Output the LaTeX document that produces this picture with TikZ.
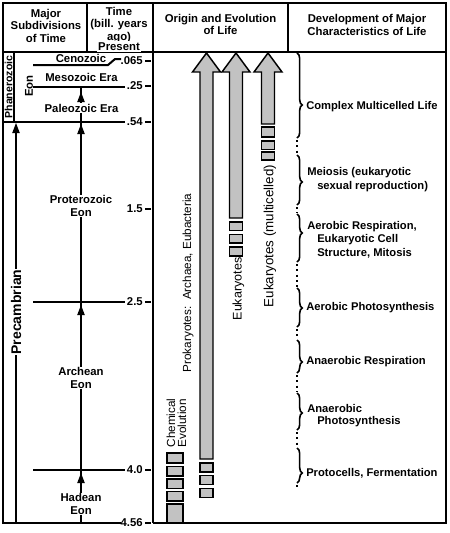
\documentclass[tikz,border=0pt]{standalone}
\usepackage{fontspec}
\setmainfont{Liberation Sans}
\usetikzlibrary{decorations.pathreplacing}
\definecolor{barfill}{gray}{0.76}
\tikzset{uphead/.pic={\fill (0,0) -- (-3.8,10) -- (3.8,10) -- cycle;}}
\begin{document}
\begin{tikzpicture}[x=0.75pt,y=-0.75pt,
  rule/.style={line width=1.5pt},
  bx/.style={font=\fontsize{8.5}{9.6}\selectfont\bfseries, inner sep=0.6pt, align=center},
  bxw/.style={bx, fill=white},
  rt/.style={font=\fontsize{8.4}{9.5}\selectfont\bfseries, anchor=west, inner sep=0pt},
  num/.style={font=\fontsize{8.5}{9.5}\selectfont\bfseries, anchor=east, inner sep=0pt},
  hdr/.style={font=\fontsize{8.5}{9.4}\selectfont\bfseries, align=center, inner sep=0pt},
  mid/.style={rotate=90, inner sep=0pt, align=left},
  bar/.style={draw, line width=1.1pt, fill=barfill},
  brc/.style={decorate, decoration={brace, amplitude=4pt, aspect=#1}, line width=1.2pt},
  dotl/.style={line width=1.5pt, dash pattern=on 1.5pt off 2.5pt}
]
\useasboundingbox (0,0) rectangle (450,533);

% ---- frame and header rules
\draw[rule] (121,523) -- (3,523) -- (3,3) -- (446,3) -- (446,523) -- (153,523);
\draw[rule] (3,52) -- (446,52);
\draw[rule] (87,3) -- (87,52);
\draw[rule] (153,3) -- (153,523);
\draw[rule] (288,3) -- (288,52);

% ---- header texts
\node[hdr] (h1) at (46,25.5) {Major\\Subdivisions\\of Time};
\node[hdr] (h2) at (119,25) {Time\\(bill. years\\ago)};
\node[hdr, fill=white, inner sep=1pt] (present) at (119,46.5) {Present};
\node[hdr] (h3) at (220.5,24.5) {Origin and Evolution\\of Life};
\node[hdr] (h4) at (367,25) {Development of Major\\Characteristics of Life};

% ---- time column rules
\draw[rule] (14,52) -- (14,122);
\draw[rule] (33,65) -- (108,65) -- (115,59) -- (121,59);
\draw[rule] (33,87) -- (125,87);
\draw[rule] (3,122) -- (125,122);
\draw[rule] (33,302) -- (125,302);
\draw[rule] (33,470) -- (125,470);
\foreach \y in {61,86,122,209,302,470,523} \draw[rule] (145,\y) -- (151,\y);

% ---- vertical arrows
\draw[rule] (16,523) -- (16,126);
\pic at (16,123) {uphead};
\draw[rule] (81,523) -- (81,87);
\pic at (81,92) {uphead};
\pic at (81,124) {uphead};
\pic at (81,305) {uphead};
\pic at (81,473) {uphead};

% ---- time labels
\node[bx, rotate=90, font=\fontsize{7.9}{9}\selectfont\bfseries] (phan) at (8.5,87) {Phanerozoic};
\node[bx, rotate=90] (eon) at (29,86) {Eon};
\node[bx, rotate=90, fill=white, font=\fontsize{10.5}{12}\selectfont\bfseries] (prec) at (16,312) {Precambrian};
\node[bx] (ceno) at (81,58) {Cenozoic};
\node[bx] (meso) at (81.5,77) {Mesozoic Era};
\node[bxw] (paleo) at (81.5,108) {Paleozoic Era};
\node[bxw] (prot) at (81,206) {Proterozoic\\Eon};
\node[bxw] (arch) at (81,378) {Archean\\Eon};
\node[bxw] (had) at (81,504) {Hadean\\Eon};

\node[num] (n1) at (143,61) {.065};
\node[num] (n2) at (143,86) {.25};
\node[num] (n3) at (143,122) {.54};
\node[num] (n4) at (143,209) {1.5};
\node[num] (n5) at (143,302) {2.5};
\node[num] (n6) at (143,470) {4.0};
\node[num] (n7) at (143,523) {4.56};

% ---- evolution arrows
\draw[bar] (200,459) -- (200,72) -- (192.5,72) -- (206.5,53) -- (220.5,72) -- (213,72) -- (213,459) -- cycle;
\draw[bar] (229.5,218) -- (229.5,72) -- (222,72) -- (236,53) -- (250,72) -- (242.5,72) -- (242.5,218) -- cycle;
\draw[bar] (261.5,124) -- (261.5,72) -- (254,72) -- (268,53) -- (282,72) -- (274.5,72) -- (274.5,124) -- cycle;

\foreach \a/\b in {463/472,475.5/484.5,488.5/497.5} \draw[bar] (200,\a) rectangle (213,\b);
\foreach \a/\b in {222/230.5,234.5/243,247/256} \draw[bar] (229.5,\a) rectangle (242.5,\b);
\foreach \a/\b in {127/137,141/149.5,152/160} \draw[bar] (261.5,\a) rectangle (274.5,\b);
\foreach \a/\b in {453/463,466.5/476,479/488.5,491.5/501,504/523} \draw[bar] (167,\a) rectangle (183,\b);

\node[mid, font=\fontsize{8.8}{8.3}\selectfont] (chem) at (176.5,423) {Chemical\\Evolution};
\node[mid, font=\fontsize{8.8}{10}\selectfont] (prok) at (188,283) {Prokaryotes:~~Archaea, Eubacteria};
\node[mid, font=\fontsize{9.4}{10}\selectfont] (euk) at (238.5,289) {Eukaryotes};
\node[mid, font=\fontsize{10}{10}\selectfont] (eukm) at (270,236) {Eukaryotes (multicelled)};

% ---- development column
\foreach \t/\b/\m in {53/138/105,155/205/182,214/262/233,288/327/308,340/373/362,393/430/413,448/483/473}{
  \pgfmathsetmacro{\asp}{(\m-\t)/(\b-\t)}
  \draw[brc=\asp] (297,\t) -- (297,\b);
}
\foreach \t/\b in {138/155,205/214,262/288,327/340,373/393,430/448,483/491}
  \draw[dotl] (297,\t+2) -- (297,\b-1);

\node[rt] (c1) at (306,107) {Complex Multicelled Life};
\node[rt] (c2) at (307,173) {Meiosis (eukaryotic};
\node[rt] (c2b) at (317,187) {sexual reproduction)};
\node[rt] (c3) at (307,227) {Aerobic Respiration,};
\node[rt] (c3b) at (317,240) {Eukaryotic Cell};
\node[rt] (c3c) at (317,253) {Structure, Mitosis};
\node[rt] (c4) at (306,308) {Aerobic Photosynthesis};
\node[rt] (c5) at (306,362) {Anaerobic Respiration};
\node[rt] (c6) at (307,408) {Anaerobic};
\node[rt] (c6b) at (317,422) {Photosynthesis};
\node[rt] (c7) at (306,473) {Protocells, Fermentation};
\end{tikzpicture}
\end{document}
